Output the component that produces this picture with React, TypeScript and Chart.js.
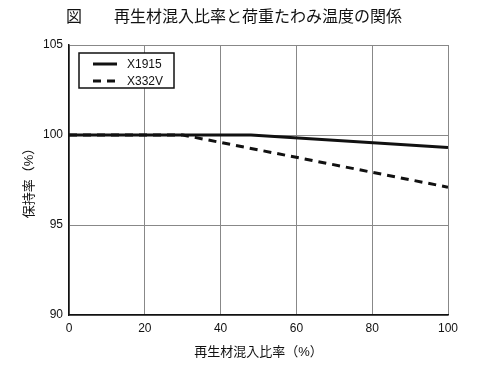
import React, { useEffect, useRef } from "react";
import { Chart, registerables } from "chart.js";

Chart.register(...registerables);

const figLabel = "図";
const chartTitle = "再生材混入比率と荷重たわみ温度の関係";
const xAxisTitle = "再生材混入比率（%）";
const yAxisTitle = "保持率（%）";

const seriesNames = ["X1915", "X332V"];
const x1915X = [0, 48, 100];
const x1915Y = [100, 100, 99.3];
const x332vX = [0, 30, 100];
const x332vY = [100, 100, 97.1];

const xMin = 0;
const xMax = 100;
const xStep = 20;
const yMin = 90;
const yMax = 105;
const yStep = 5;

const JP = "'Liberation Sans', 'Noto Sans CJK JP', sans-serif";

const toPoints = (xs: number[], ys: number[]) => xs.map((x, i) => ({ x, y: ys[i] }));

const titlePlugin = {
  id: "figTitle",
  afterDraw(chart: any) {
    const ctx = chart.ctx;
    ctx.save();
    ctx.fillStyle = "#111";
    ctx.font = `16px ${JP}`;
    ctx.textBaseline = "middle";
    ctx.textAlign = "left";
    ctx.fillText(figLabel, 66, 18);
    ctx.fillText(chartTitle, 114, 18);
    ctx.restore();
  },
};

const boxLegend = {
  id: "boxLegend",
  afterDraw(chart: any) {
    const ctx = chart.ctx;
    const area = chart.chartArea;
    const left = area.left + 10;
    const top = area.top + 8;
    const w = 95;
    const h = 35;
    ctx.save();
    ctx.fillStyle = "#fff";
    ctx.fillRect(left, top, w, h);
    ctx.strokeStyle = "#111";
    ctx.lineWidth = 1.5;
    ctx.strokeRect(left, top, w, h);
    chart.data.datasets.forEach((ds: any, i: number) => {
      const y = top + 11 + i * 17;
      ctx.beginPath();
      ctx.setLineDash(ds.borderDash || []);
      ctx.lineWidth = ds.borderWidth;
      ctx.strokeStyle = ds.borderColor;
      ctx.moveTo(left + 14, y);
      ctx.lineTo(left + 38, y);
      ctx.stroke();
      ctx.setLineDash([]);
      ctx.fillStyle = "#111";
      ctx.font = `12px ${JP}`;
      ctx.textBaseline = "middle";
      ctx.textAlign = "left";
      ctx.fillText(ds.label, left + 48, y + 1);
    });
    ctx.restore();
  },
};

export default function App() {
  const ref = useRef<HTMLCanvasElement>(null);
  useEffect(() => {
    if (!ref.current) return;
    const chart = new Chart(ref.current, {
      type: "line",
      data: {
        datasets: [
          {
            label: seriesNames[0],
            data: toPoints(x1915X, x1915Y),
            borderColor: "#111",
            borderWidth: 3,
            pointRadius: 0,
            tension: 0,
          },
          {
            label: seriesNames[1],
            data: toPoints(x332vX, x332vY),
            borderColor: "#111",
            borderWidth: 3,
            borderDash: [8, 6],
            pointRadius: 0,
            tension: 0,
          },
        ],
      },
      options: {
        animation: false,
        responsive: false,
        layout: { padding: { left: 0, top: 45, right: 52, bottom: 0 } },
        plugins: {
          legend: { display: false },
          title: { display: false },
          tooltip: { enabled: false },
        },
        scales: {
          x: {
            type: "linear",
            min: xMin,
            max: xMax,
            ticks: {
              stepSize: xStep,
              color: "#111",
              font: { size: 12, family: JP },
              padding: 6,
              maxRotation: 0,
            },
            grid: { color: "#888", lineWidth: 1, drawTicks: false },
            border: { color: "#111", width: 1.5 },
            title: {
              display: true,
              text: xAxisTitle,
              color: "#111",
              font: { size: 13, family: JP },
              padding: { top: 0, bottom: 16 },
            },
            afterFit(scale: any) {
              scale.height = 61;
            },
          },
          y: {
            type: "linear",
            min: yMin,
            max: yMax,
            ticks: {
              stepSize: yStep,
              color: "#111",
              font: { size: 12, family: JP },
              padding: 6,
            },
            grid: { color: "#888", lineWidth: 1, drawTicks: false },
            border: { color: "#111", width: 1.5 },
            title: {
              display: true,
              text: yAxisTitle,
              color: "#111",
              font: { size: 13, family: JP },
              padding: { top: 22, bottom: 0 },
            },
            afterFit(scale: any) {
              scale.width = 69;
            },
          },
        },
      },
      plugins: [titlePlugin, boxLegend],
    } as any);
    return () => chart.destroy();
  }, []);
  return (
    <div style={{ position: "fixed", left: 0, top: 0, width: 500, height: 376, background: "#fff" }}>
      <canvas ref={ref} width={500} height={376} style={{ width: 500, height: 376 }} />
    </div>
  );
}
